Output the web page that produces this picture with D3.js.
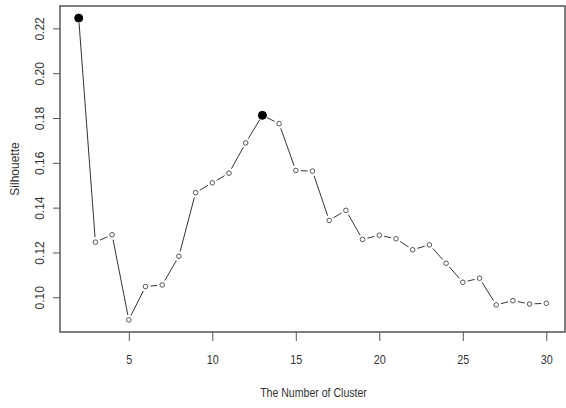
<html>
<head>
<script src="https://d3js.org/d3.v7.min.js"></script>
<style>
body { margin: 0; padding: 0; background: #fff; }
svg text { font-family: "Liberation Sans", Arial, sans-serif; fill: #333; }
</style>
</head>
<body>
<svg id="chart" width="566" height="408"></svg>
<script>

var clusters = [2,3,4,5,6,7,8,9,10,11,12,13,14,15,16,17,18,19,20,21,22,23,24,25,26,27,28,29,30];
var silhouette = [0.2246,0.1246,0.1279,0.0899,0.1048,0.1055,0.1183,0.1467,0.1511,0.1554,0.1689,0.1812,0.1775,
                  0.1566,0.1563,0.1343,0.1388,0.1258,0.1277,0.1261,0.1212,0.1234,0.1152,0.1067,0.1085,0.0966,0.0985,0.0970,0.0973];
var highlighted = [2, 13];
var xTicks = [5,10,15,20,25,30];
var yTicks = [0.10,0.12,0.14,0.16,0.18,0.20,0.22];

var svg = d3.select("#chart");
var plotL = 60, plotT = 6, plotR = 565, plotB = 332;

var x = d3.scaleLinear().domain([0.88, 31.12]).range([plotL, plotR]);
var y = d3.scaleLinear().domain([0.0845, 0.2300]).range([plotB, plotT]);

var data = clusters.map(function(c, i) { return {k: c, v: silhouette[i]}; });

// box
svg.append("rect")
  .attr("x", plotL).attr("y", plotT)
  .attr("width", plotR - plotL).attr("height", plotB - plotT)
  .attr("fill", "none").attr("stroke", "#555").attr("stroke-width", 1.5);

// x axis
var xa = svg.append("g")
  .attr("transform", "translate(0," + plotB + ")")
  .call(d3.axisBottom(x).tickValues(xTicks).tickSize(9).tickSizeOuter(0).tickPadding(14));
xa.select(".domain").remove();
xa.selectAll("line").attr("stroke", "#555");
xa.selectAll("text").attr("font-size", 12).attr("transform", "scale(0.9,1)");

// y axis
var ya = svg.append("g")
  .attr("transform", "translate(" + plotL + ",0)")
  .call(d3.axisLeft(y).tickValues(yTicks).tickSize(7).tickSizeOuter(0).tickFormat(d3.format(".2f")));
ya.select(".domain").remove();
ya.selectAll("line").attr("stroke", "#555");
ya.selectAll("text")
  .attr("font-size", 12)
  .attr("text-anchor", "middle")
  .attr("dy", "0.35em")
  .attr("x", 0)
  .attr("transform", "translate(-20,0) rotate(-90)");

// titles
svg.append("text")
  .attr("transform", "translate(" + ((plotL + plotR) / 2 + 1) + ",397) scale(0.88,1)")
  .attr("text-anchor", "middle")
  .attr("font-size", 12)
  .text("The Number of Cluster");

svg.append("text")
  .attr("transform", "translate(15," + ((plotT + plotB) / 2) + ") rotate(-90)")
  .attr("text-anchor", "middle")
  .attr("dy", "0.35em")
  .attr("font-size", 12)
  .text("Silhouette");

// line segments with gaps at the points (R type = "b")
var gap = 5;
for (var i = 0; i < data.length - 1; i++) {
  var x0 = x(data[i].k), y0 = y(data[i].v), x1 = x(data[i+1].k), y1 = y(data[i+1].v);
  var dx = x1 - x0, dy = y1 - y0, len = Math.sqrt(dx*dx + dy*dy);
  if (len <= 2 * gap) continue;
  var ux = dx / len, uy = dy / len;
  svg.append("line")
    .attr("x1", x0 + ux*gap).attr("y1", y0 + uy*gap)
    .attr("x2", x1 - ux*gap).attr("y2", y1 - uy*gap)
    .attr("stroke", "#333").attr("stroke-width", 1);
}

// points
svg.selectAll("circle.pt")
  .data(data)
  .enter().append("circle")
  .attr("class", "pt")
  .attr("cx", function(d) { return x(d.k); })
  .attr("cy", function(d) { return y(d.v); })
  .attr("r", function(d) { return highlighted.indexOf(d.k) >= 0 ? 4 : 2.3; })
  .attr("fill", function(d) { return highlighted.indexOf(d.k) >= 0 ? "#000" : "#fff"; })
  .attr("stroke", function(d) { return highlighted.indexOf(d.k) >= 0 ? "#000" : "#555"; })
  .attr("stroke-width", 1);

</script>
</body>
</html>
